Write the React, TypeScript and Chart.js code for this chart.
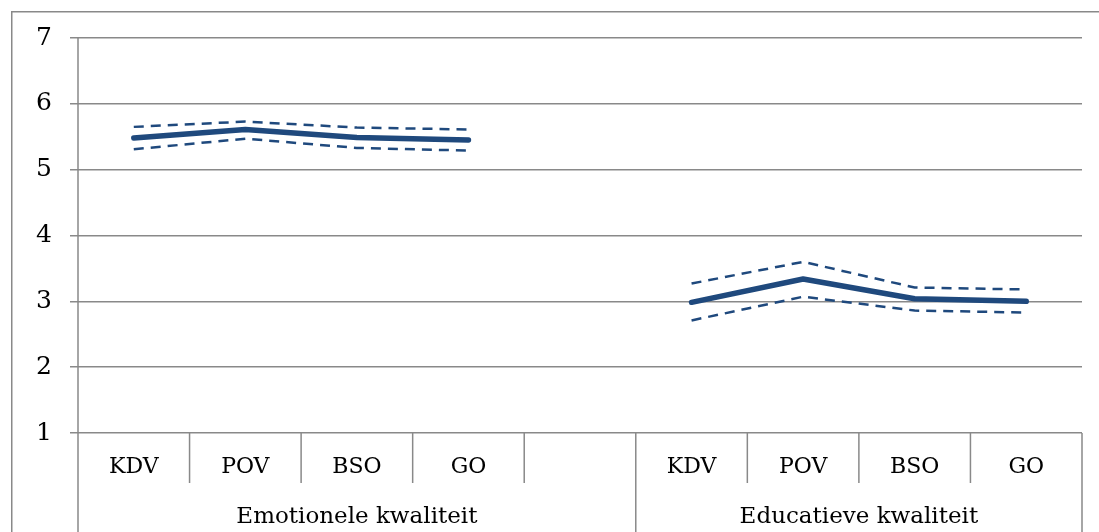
import React, { useEffect, useRef } from "react";
import { Chart, registerables } from "chart.js";
Chart.register(...registerables);

const categories = ["KDV", "POV", "BSO", "GO", "", "KDV", "POV", "BSO", "GO"];
const groupLabels = ["Emotionele kwaliteit", "Educatieve kwaliteit"];
const groupSizes = [5, 4];
const meanValues = [5.48, 5.61, 5.49, 5.45, null, 2.985, 3.34, 3.04, 3.0];
const upperValues = [5.65, 5.73, 5.64, 5.61, null, 3.27, 3.6, 3.21, 3.18];
const lowerValues = [5.31, 5.47, 5.33, 5.29, null, 2.71, 3.07, 2.86, 2.83];
const yTicks = [1, 2, 3, 4, 5, 6, 7];

const LINE = "#1F497D";
const GRID = "#898989";
const FONT = "DejaVu Serif";

const decorPlugin = {
  id: "decor",
  beforeDraw(chart: any) {
    const ctx = chart.ctx;
    ctx.save();
    ctx.fillStyle = GRID;
    ctx.fillRect(11, 11, 1.5, chart.height);
    ctx.fillRect(11, 11, chart.width, 1.5);
    ctx.restore();
  },
  afterDraw(chart: any) {
    const ctx = chart.ctx;
    const area = chart.chartArea;
    const x = chart.scales.x;
    const n = categories.length;
    const w = (area.right - area.left) / n;
    const bottom = chart.height;
    const tickBottom = area.bottom + 50;
    ctx.save();
    ctx.strokeStyle = GRID;
    ctx.lineWidth = 1.5;
    ctx.beginPath();
    ctx.moveTo(area.left, area.top);
    ctx.lineTo(area.left, bottom);
    ctx.stroke();
    const groupEdges: number[] = [0];
    let acc = 0;
    groupSizes.forEach((s) => {
      acc += s;
      groupEdges.push(acc);
    });
    for (let i = 1; i <= n; i++) {
      const px = x.getPixelForValue(i - 1) + w / 2;
      const full = groupEdges.includes(i);
      ctx.beginPath();
      ctx.moveTo(px, area.bottom);
      ctx.lineTo(px, full ? bottom : tickBottom);
      ctx.stroke();
    }
    ctx.fillStyle = "#000";
    ctx.textAlign = "center";
    ctx.textBaseline = "middle";
    ctx.font = `22px "${FONT}"`;
    categories.forEach((c, i) => {
      ctx.fillText(c, x.getPixelForValue(i), area.bottom + 34);
    });
    ctx.font = `23px "${FONT}"`;
    let start = 0;
    groupLabels.forEach((g, gi) => {
      const end = start + groupSizes[gi];
      const l = x.getPixelForValue(start) - w / 2;
      const r = x.getPixelForValue(end - 1) + w / 2;
      ctx.fillText(g, (l + r) / 2, area.bottom + 84);
      start = end;
    });
    ctx.restore();
  },
};

export default function App() {
  const ref = useRef<HTMLCanvasElement | null>(null);
  useEffect(() => {
    if (!ref.current) return;
    const chart = new Chart(ref.current, {
      type: "line",
      data: {
        labels: categories,
        datasets: [
          {
            data: upperValues,
            borderColor: LINE,
            borderWidth: 2.5,
            borderDash: [10, 7],
            pointRadius: 0,
            fill: false,
            tension: 0,
            spanGaps: false,
          },
          {
            data: lowerValues,
            borderColor: LINE,
            borderWidth: 2.5,
            borderDash: [10, 7],
            pointRadius: 0,
            fill: false,
            tension: 0,
            spanGaps: false,
          },
          {
            data: meanValues,
            borderColor: LINE,
            borderWidth: 5.5,
            borderCapStyle: "round",
            borderJoinStyle: "round",
            pointRadius: 0,
            fill: false,
            tension: 0,
            spanGaps: false,
          },
        ],
      },
      options: {
        animation: false,
        responsive: true,
        maintainAspectRatio: false,
        layout: { padding: { top: 38, right: 17, bottom: 99, left: 0 } },
        plugins: { legend: { display: false }, tooltip: { enabled: false } },
        scales: {
          x: {
            type: "category",
            offset: true,
            display: false,
          },
          y: {
            min: 1,
            max: 7,
            afterFit: (s: any) => {
              s.width = 78;
            },
            afterBuildTicks: (s: any) => {
              s.ticks = yTicks.map((v) => ({ value: v }));
            },
            border: { display: false },
            grid: { color: GRID, lineWidth: 1.5, tickLength: 8, drawTicks: true },
            ticks: {
              color: "#000",
              padding: 18,
              font: { family: FONT, size: 25 },
            },
          },
        },
      },
      plugins: [decorPlugin],
    });
    return () => chart.destroy();
  }, []);
  return (
    <div style={{ position: "absolute", left: 0, top: 0, width: 1099, height: 532, background: "#fff" }}>
      <canvas ref={ref} />
    </div>
  );
}
